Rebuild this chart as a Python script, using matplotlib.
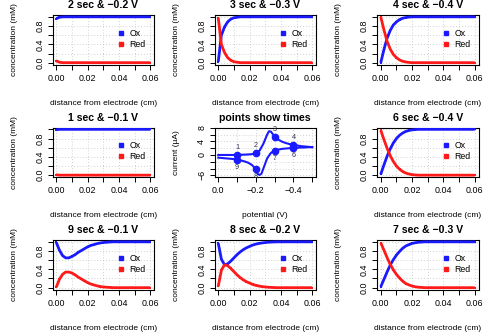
import matplotlib
matplotlib.use('Agg')
import matplotlib.pyplot as plt
from matplotlib.lines import Line2D

plt.rcParams['font.family'] = ['Liberation Sans', 'DejaVu Sans']

# ---------------- data ----------------
dist = [0.000, 0.002, 0.004, 0.006, 0.008, 0.010, 0.012, 0.014, 0.016, 0.018,
        0.020, 0.022, 0.024, 0.026, 0.028, 0.030, 0.032, 0.034, 0.036, 0.038,
        0.040, 0.042, 0.044, 0.046, 0.048, 0.050, 0.052, 0.054, 0.056, 0.058,
        0.060]

ox_1 = [0.99, 1.0, 1.0, 1.0, 1.0, 1.0, 1.0, 1.0, 1.0, 1.0,
        1.0, 1.0, 1.0, 1.0, 1.0, 1.0, 1.0, 1.0, 1.0, 1.0,
        1.0, 1.0, 1.0, 1.0, 1.0, 1.0, 1.0, 1.0, 1.0, 1.0,
        1.0]
red_1 = [0.01, 0.0, 0.0, 0.0, 0.0, 0.0, 0.0, 0.0, 0.0, 0.0,
         0.0, 0.0, 0.0, 0.0, 0.0, 0.0, 0.0, 0.0, 0.0, 0.0,
         0.0, 0.0, 0.0, 0.0, 0.0, 0.0, 0.0, 0.0, 0.0, 0.0,
         0.0]
ox_2 = [0.96, 0.99, 1.0, 1.0, 1.0, 1.0, 1.0, 1.0, 1.0, 1.0,
        1.0, 1.0, 1.0, 1.0, 1.0, 1.0, 1.0, 1.0, 1.0, 1.0,
        1.0, 1.0, 1.0, 1.0, 1.0, 1.0, 1.0, 1.0, 1.0, 1.0,
        1.0]
red_2 = [0.04, 0.01, 0.0, 0.0, 0.0, 0.0, 0.0, 0.0, 0.0, 0.0,
         0.0, 0.0, 0.0, 0.0, 0.0, 0.0, 0.0, 0.0, 0.0, 0.0,
         0.0, 0.0, 0.0, 0.0, 0.0, 0.0, 0.0, 0.0, 0.0, 0.0,
         0.0]
ox_3 = [0.02, 0.60, 0.78, 0.89, 0.95, 0.98, 0.99, 1.0, 1.0, 1.0,
        1.0, 1.0, 1.0, 1.0, 1.0, 1.0, 1.0, 1.0, 1.0, 1.0,
        1.0, 1.0, 1.0, 1.0, 1.0, 1.0, 1.0, 1.0, 1.0, 1.0,
        1.0]
red_3 = [0.98, 0.40, 0.22, 0.11, 0.05, 0.02, 0.01, 0.0, 0.0, 0.0,
         0.0, 0.0, 0.0, 0.0, 0.0, 0.0, 0.0, 0.0, 0.0, 0.0,
         0.0, 0.0, 0.0, 0.0, 0.0, 0.0, 0.0, 0.0, 0.0, 0.0,
         0.0]
ox_4 = [0.0, 0.28, 0.53, 0.70, 0.82, 0.89, 0.94, 0.97, 0.985, 0.995,
        1.0, 1.0, 1.0, 1.0, 1.0, 1.0, 1.0, 1.0, 1.0, 1.0,
        1.0, 1.0, 1.0, 1.0, 1.0, 1.0, 1.0, 1.0, 1.0, 1.0,
        1.0]
red_4 = [1.0, 0.72, 0.47, 0.30, 0.18, 0.11, 0.06, 0.03, 0.015, 0.005,
         0.0, 0.0, 0.0, 0.0, 0.0, 0.0, 0.0, 0.0, 0.0, 0.0,
         0.0, 0.0, 0.0, 0.0, 0.0, 0.0, 0.0, 0.0, 0.0, 0.0,
         0.0]
ox_6 = [0.02, 0.22, 0.41, 0.57, 0.70, 0.80, 0.87, 0.92, 0.955, 0.975,
        0.988, 0.995, 1.0, 1.0, 1.0, 1.0, 1.0, 1.0, 1.0, 1.0,
        1.0, 1.0, 1.0, 1.0, 1.0, 1.0, 1.0, 1.0, 1.0, 1.0,
        1.0]
red_6 = [0.98, 0.78, 0.59, 0.43, 0.30, 0.20, 0.13, 0.08, 0.045, 0.025,
         0.012, 0.005, 0.0, 0.0, 0.0, 0.0, 0.0, 0.0, 0.0, 0.0,
         0.0, 0.0, 0.0, 0.0, 0.0, 0.0, 0.0, 0.0, 0.0, 0.0,
         0.0]
ox_7 = [0.02, 0.18, 0.34, 0.49, 0.61, 0.71, 0.79, 0.86, 0.91, 0.94,
        0.965, 0.98, 0.99, 0.995, 1.0, 1.0, 1.0, 1.0, 1.0, 1.0,
        1.0, 1.0, 1.0, 1.0, 1.0, 1.0, 1.0, 1.0, 1.0, 1.0,
        1.0]
red_7 = [0.98, 0.82, 0.66, 0.51, 0.39, 0.29, 0.21, 0.14, 0.09, 0.06,
         0.035, 0.02, 0.01, 0.005, 0.0, 0.0, 0.0, 0.0, 0.0, 0.0,
         0.0, 0.0, 0.0, 0.0, 0.0, 0.0, 0.0, 0.0, 0.0, 0.0,
         0.0]
ox_8 = [0.97, 0.62, 0.50, 0.52, 0.58, 0.65, 0.72, 0.78, 0.83, 0.87,
        0.90, 0.93, 0.95, 0.965, 0.976, 0.985, 0.991, 0.995, 0.998, 1.0,
        1.0, 1.0, 1.0, 1.0, 1.0, 1.0, 1.0, 1.0, 1.0, 1.0,
        1.0]
red_8 = [0.03, 0.38, 0.50, 0.48, 0.42, 0.35, 0.28, 0.22, 0.17, 0.13,
         0.10, 0.07, 0.05, 0.035, 0.024, 0.015, 0.009, 0.005, 0.002, 0.0,
         0.0, 0.0, 0.0, 0.0, 0.0, 0.0, 0.0, 0.0, 0.0, 0.0,
         0.0]
ox_9 = [0.99, 0.82, 0.70, 0.65, 0.65, 0.68, 0.72, 0.77, 0.81, 0.85,
        0.89, 0.92, 0.94, 0.96, 0.975, 0.985, 0.99, 0.995, 1.0, 1.0,
        1.0, 1.0, 1.0, 1.0, 1.0, 1.0, 1.0, 1.0, 1.0, 1.0,
        1.0]
red_9 = [0.01, 0.18, 0.29, 0.34, 0.34, 0.32, 0.28, 0.23, 0.19, 0.15,
         0.11, 0.08, 0.06, 0.04, 0.025, 0.015, 0.01, 0.005, 0.0, 0.0,
         0.0, 0.0, 0.0, 0.0, 0.0, 0.0, 0.0, 0.0, 0.0, 0.0,
         0.0]

# cyclic voltammogram
cv_pot_fwd = [0.0, -0.02, -0.04, -0.06, -0.08, -0.10, -0.12, -0.14, -0.16, -0.18,
              -0.20, -0.22, -0.24, -0.26, -0.27, -0.28, -0.30, -0.32, -0.34, -0.36,
              -0.38, -0.40, -0.42, -0.44, -0.46, -0.48, -0.50]
cv_cur_fwd = [0.0, 0.0, 0.0, 0.0, 0.0, 0.05, 0.05, 0.1, 0.15, 0.25,
              0.5, 1.3, 3.3, 6.0, 7.0, 6.9, 5.4, 4.5, 3.9, 3.5,
              3.2, 3.0, 2.8, 2.6, 2.5, 2.4, 2.3]
cv_pot_rev = [-0.50, -0.48, -0.46, -0.44, -0.42, -0.40, -0.38, -0.36, -0.34, -0.32,
              -0.30, -0.28, -0.26, -0.24, -0.23, -0.22, -0.21, -0.20, -0.18, -0.16,
              -0.14, -0.12, -0.10, -0.08, -0.06, -0.04, -0.02, 0.0]
cv_cur_rev = [2.3, 2.3, 2.2, 2.2, 2.1, 2.1, 2.0, 1.9, 1.8, 1.6,
              1.3, 0.6, -1.0, -4.0, -5.5, -5.9, -5.6, -4.2, -3.0, -2.3,
              -1.9, -1.6, -1.4, -1.2, -1.1, -1.0, -0.9, -0.8]

time_labels = ['1', '2', '3', '4', '6', '7', '8', '9']
time_pot = [-0.1, -0.2, -0.3, -0.4, -0.4, -0.3, -0.2, -0.1]
time_cur = [0.05, 0.5, 5.4, 3.0, 2.1, 1.3, -4.2, -1.4]
time_above = [True, True, True, True, False, False, False, False]

panel_titles = ['2 sec & \u22120.2 V', '3 sec & \u22120.3 V', '4 sec & \u22120.4 V',
                '1 sec & \u22120.1 V', None, '6 sec & \u22120.4 V',
                '9 sec & \u22120.1 V', '8 sec & \u22120.2 V', '7 sec & \u22120.3 V']
panel_ox = [ox_2, ox_3, ox_4, ox_1, None, ox_6, ox_9, ox_8, ox_7]
panel_red = [red_2, red_3, red_4, red_1, None, red_6, red_9, red_8, red_7]

# ---------------- layout ----------------
W, H = 492, 334
fig = plt.figure(figsize=(W / 100, H / 100), dpi=100)
col_left = [52.5, 214.5, 377.0]
row_top = [15.0, 127.5, 240.0]
bw, bh = 101.5, 49.5

TICK_FS = 6.4
LAB_FS = 6.0
TITLE_FS = 7.6
BLUE = '#1a1aff'
RED = '#ff1a1a'


def style_axis(ax):
    for s in ax.spines.values():
        s.set_linewidth(0.8)
        s.set_color('black')
    ax.tick_params(direction='out', length=3.5, width=0.7, pad=3.0,
                   labelsize=TICK_FS, colors='black')
    ax.tick_params(axis='y', pad=2.5)
    ax.grid(True, linestyle=(0, (1, 2.5)), color='#c4c4c4', linewidth=0.6)
    ax.set_axisbelow(True)


for i in range(9):
    r, c = divmod(i, 3)
    L, T = col_left[c], row_top[r]
    ax = fig.add_axes([L / W, 1 - (T + bh) / H, bw / W, bh / H])
    style_axis(ax)
    if panel_ox[i] is not None:
        ax.plot(dist, panel_ox[i], color=BLUE, lw=2.0, marker='s', ms=2.0,
                mew=0, solid_capstyle='butt', zorder=3)
        ax.plot(dist, panel_red[i], color=RED, lw=2.0, marker='s', ms=2.0,
                mew=0, solid_capstyle='butt', zorder=4)
        ax.set_xlim(-0.0024, 0.0624)
        ax.set_ylim(-0.04, 1.04)
        ax.set_xticks([0.0, 0.01, 0.02, 0.03, 0.04, 0.05, 0.06])
        ax.set_xticklabels(['0.00', '', '0.02', '', '0.04', '', '0.06'])
        ax.set_yticks([0.0, 0.2, 0.4, 0.6, 0.8, 1.0])
        ax.set_yticklabels(['0.0', '', '0.4', '', '0.8', ''],
                           rotation=90, va='center')
        ax.set_xlabel('distance from electrode (cm)', fontsize=LAB_FS)
        ax.set_ylabel('concentration (mM)', fontsize=LAB_FS)
        ax.xaxis.set_label_coords(0.5, -0.71)
        ax.yaxis.set_label_coords(-0.34, 0.5)
        ax.text(0.5, 1.2, panel_titles[i], transform=ax.transAxes,
                ha='center', va='center', fontsize=TITLE_FS, fontweight='bold')
        handles = [Line2D([], [], color=BLUE, marker='s', ls='none', ms=3.2),
                   Line2D([], [], color=RED, marker='s', ls='none', ms=3.2)]
        ax.legend(handles, ['Ox', 'Red'], loc='center left',
                  bbox_to_anchor=(0.58, 0.52), frameon=False,
                  fontsize=6.3, handlelength=0.9, handletextpad=0.5,
                  labelspacing=0.25, borderpad=0.2)
    else:
        ax.plot(cv_pot_fwd, cv_cur_fwd, color=BLUE, lw=1.5, zorder=3)
        ax.plot(cv_pot_rev, cv_cur_rev, color=BLUE, lw=1.5, zorder=3)
        ax.plot(time_pot, time_cur, 'o', color=BLUE, ms=4.5, zorder=4)
        for lab, xp, yp, up in zip(time_labels, time_pot, time_cur, time_above):
            ax.annotate(lab, (xp, yp), xytext=(0, 5.5 if up else -5.5),
                        textcoords='offset points', ha='center', va='center',
                        fontsize=5.2, color='#333355', zorder=5)
        ax.set_xlim(0.02, -0.52)
        ax.set_ylim(-6.5, 8.1)
        ax.set_xticks([0.0, -0.1, -0.2, -0.3, -0.4, -0.5])
        ax.set_xticklabels(['0.0', '', '\u22120.2', '', '\u22120.4', ''])
        ax.set_yticks([-6, -4, -2, 0, 2, 4, 6, 8])
        ax.set_yticklabels(['\u22126', '', '', '0', '', '4', '', '8'],
                           rotation=90, va='center')
        ax.set_xlabel('potential (V)', fontsize=LAB_FS)
        ax.set_ylabel('current (\u00b5A)', fontsize=LAB_FS)
        ax.xaxis.set_label_coords(0.5, -0.71)
        ax.yaxis.set_label_coords(-0.34, 0.5)
        ax.text(0.5, 1.2, 'points show times', transform=ax.transAxes,
                ha='center', va='center', fontsize=TITLE_FS, fontweight='bold')

fig.savefig('out.png', dpi=100)
